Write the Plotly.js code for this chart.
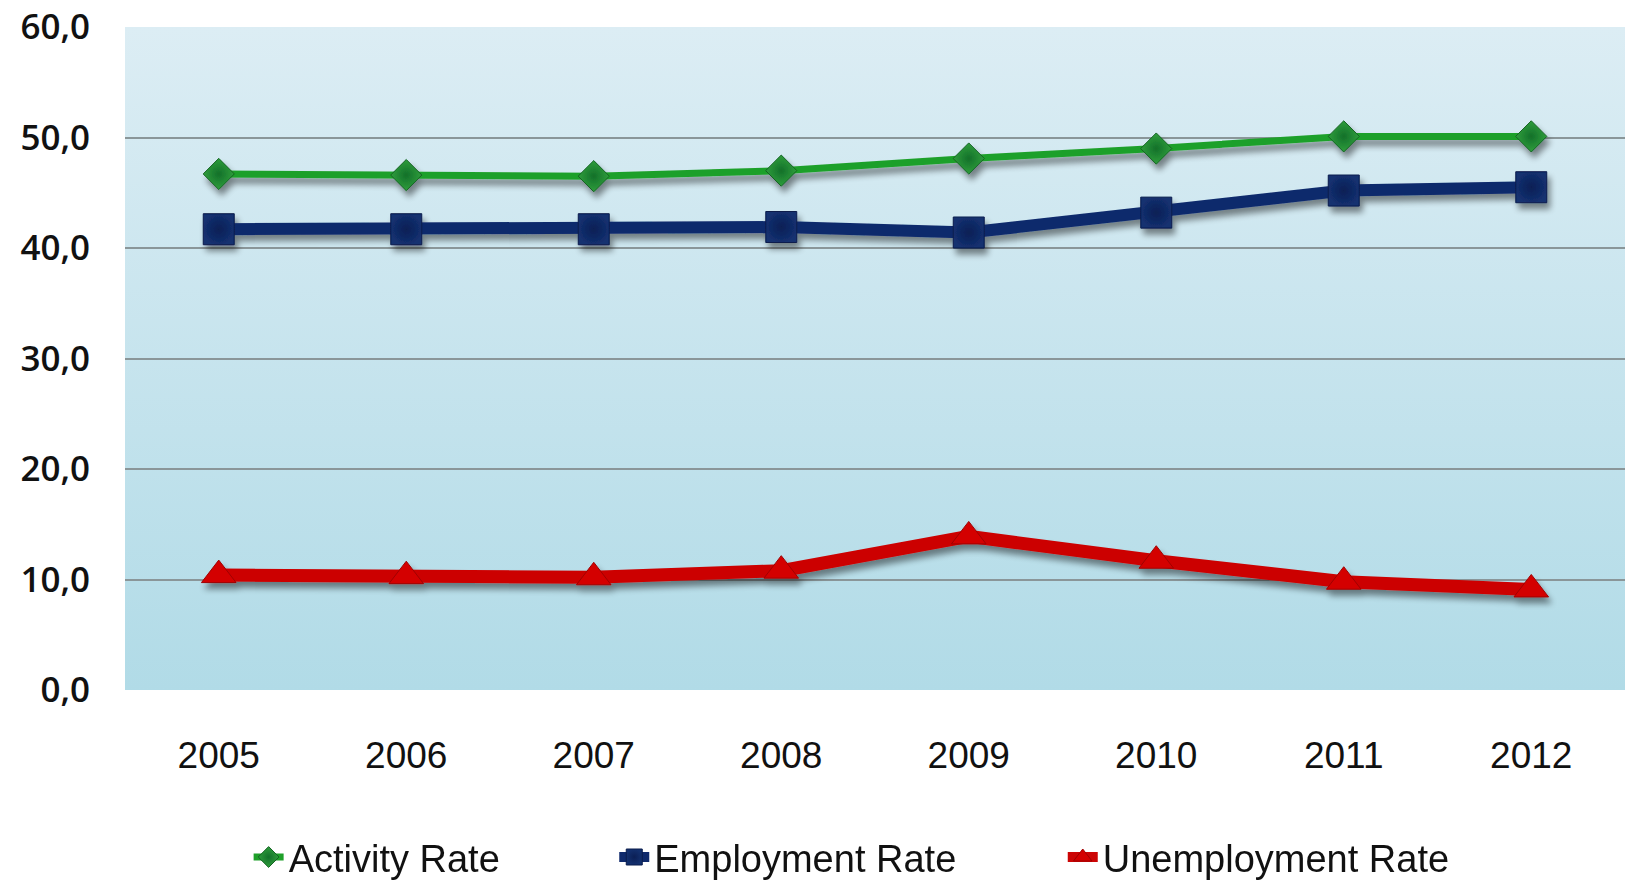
<!DOCTYPE html>
<html><head><meta charset="utf-8">
<script src="https://cdn.plot.ly/plotly-3.0.1.min.js"></script>
<style>html,body{margin:0;padding:0;background:#fff}#chart{width:1625px;height:882px}</style>
</head><body><div id="chart"></div>
<script>
const years = ['2005','2006','2007','2008','2009','2010','2011','2012'];
const activityRate = [46.7, 46.6, 46.5, 47.0, 48.1, 49.0, 50.1, 50.1];
const employmentRate = [41.7, 41.7, 41.7, 41.9, 41.4, 43.2, 45.2, 45.5];
const unemploymentRate = [10.4, 10.3, 10.2, 10.8, 13.9, 11.7, 9.8, 9.1];
const seriesNames = ['Activity Rate', 'Employment Rate', 'Unemployment Rate'];
const yTicks = [0, 10, 20, 30, 40, 50, 60];

const bgSvg = '<svg xmlns="http://www.w3.org/2000/svg" width="100" height="100" preserveAspectRatio="none">' +
  '<defs><linearGradient id="g" x1="0" y1="0" x2="0" y2="1">' +
  '<stop offset="0" stop-color="#dcedf4"/><stop offset="1" stop-color="#b1dbe7"/></linearGradient></defs>' +
  '<rect width="100" height="100" fill="url(#g)"/></svg>';
const bgUri = 'data:image/svg+xml;charset=utf-8,' + encodeURIComponent(bgSvg);

const legendFont = {family: 'Liberation Sans, Arial, sans-serif', size: 38, color: '#111'};
function legendAt(xFrac) {
  return {
    orientation: 'h', xref: 'container', yref: 'container',
    x: xFrac, xanchor: 'left', y: 0.028, yanchor: 'middle',
    font: legendFont, itemwidth: 30, bgcolor: 'rgba(0,0,0,0)'
  };
}

const traces = [
  {
    x: years, y: unemploymentRate, name: seriesNames[2], type: 'scatter', mode: 'lines+markers',
    legend: 'legend3',
    line: {color: '#cc0505', width: 13},
    marker: {symbol: 'triangle-up', size: 30, color: '#d40000', line: {color: '#a00000', width: 1}}
  },
  {
    x: years, y: employmentRate, name: seriesNames[1], type: 'scatter', mode: 'lines+markers',
    legend: 'legend2',
    line: {color: '#0f2a6c', width: 12},
    marker: {symbol: 'square', size: 31, color: '#13306f', line: {color: '#0a1c4c', width: 1},
             gradient: {type: 'radial', color: '#0b1f55'}}
  },
  {
    x: years, y: activityRate, name: seriesNames[0], type: 'scatter', mode: 'lines+markers',
    legend: 'legend',
    line: {color: '#1fa02a', width: 7},
    marker: {symbol: 'diamond', size: 24, color: '#2f9e3c', line: {color: '#136322', width: 1},
             gradient: {type: 'radial', color: '#13702a'}}
  }
];

const layout = {
  width: 1625, height: 882,
  margin: {l: 125, r: 0, t: 27, b: 192},
  paper_bgcolor: '#ffffff',
  plot_bgcolor: 'rgba(0,0,0,0)',
  separators: ',.',
  showlegend: true,
  legend: legendAt(0.153),
  legend2: legendAt(0.378),
  legend3: legendAt(0.654),
  xaxis: {
    type: 'category', range: [-0.5, 7.5],
    showgrid: false, zeroline: false, showline: false, ticks: '',
    ticklabelstandoff: 40,
    tickfont: {family: 'Liberation Sans, Arial, sans-serif', size: 37, color: '#111'}
  },
  yaxis: {
    range: [0, 60], tickvals: yTicks, tickformat: '.1f',
    showgrid: true, gridcolor: '#8a9699', gridwidth: 2,
    zeroline: false, showline: false, ticks: '',
    ticklabelstandoff: 34,
    tickfont: {family: 'Open Sans, sans-serif', size: 35, color: '#111', weight: 600}
  },
  images: [{
    source: bgUri, xref: 'paper', yref: 'paper', x: 0, y: 1, sizex: 1, sizey: 1,
    xanchor: 'left', yanchor: 'top', sizing: 'stretch', layer: 'below'
  }]
};

Plotly.newPlot('chart', traces, layout, {displayModeBar: false, staticPlot: true}).then(function (gd) {
  const svg = gd.querySelector('.main-svg');
  const ns = 'http://www.w3.org/2000/svg';
  let defs = svg.querySelector('defs');
  if (!defs) { defs = document.createElementNS(ns, 'defs'); svg.insertBefore(defs, svg.firstChild); }
  const f = document.createElementNS(ns, 'filter');
  f.setAttribute('id', 'dshadow');
  f.setAttribute('x', '-10%'); f.setAttribute('y', '-20%');
  f.setAttribute('width', '130%'); f.setAttribute('height', '160%');
  f.innerHTML = '<feGaussianBlur in="SourceAlpha" stdDeviation="3"/>' +
    '<feOffset dx="3" dy="6" result="ob"/>' +
    '<feComponentTransfer><feFuncA type="linear" slope="0.45"/></feComponentTransfer>' +
    '<feMerge><feMergeNode/><feMergeNode in="SourceGraphic"/></feMerge>';
  defs.appendChild(f);
  gd.querySelectorAll('.scatterlayer .trace').forEach(function (t) {
    t.setAttribute('filter', 'url(#dshadow)');
  });
});
</script>
</body></html>
